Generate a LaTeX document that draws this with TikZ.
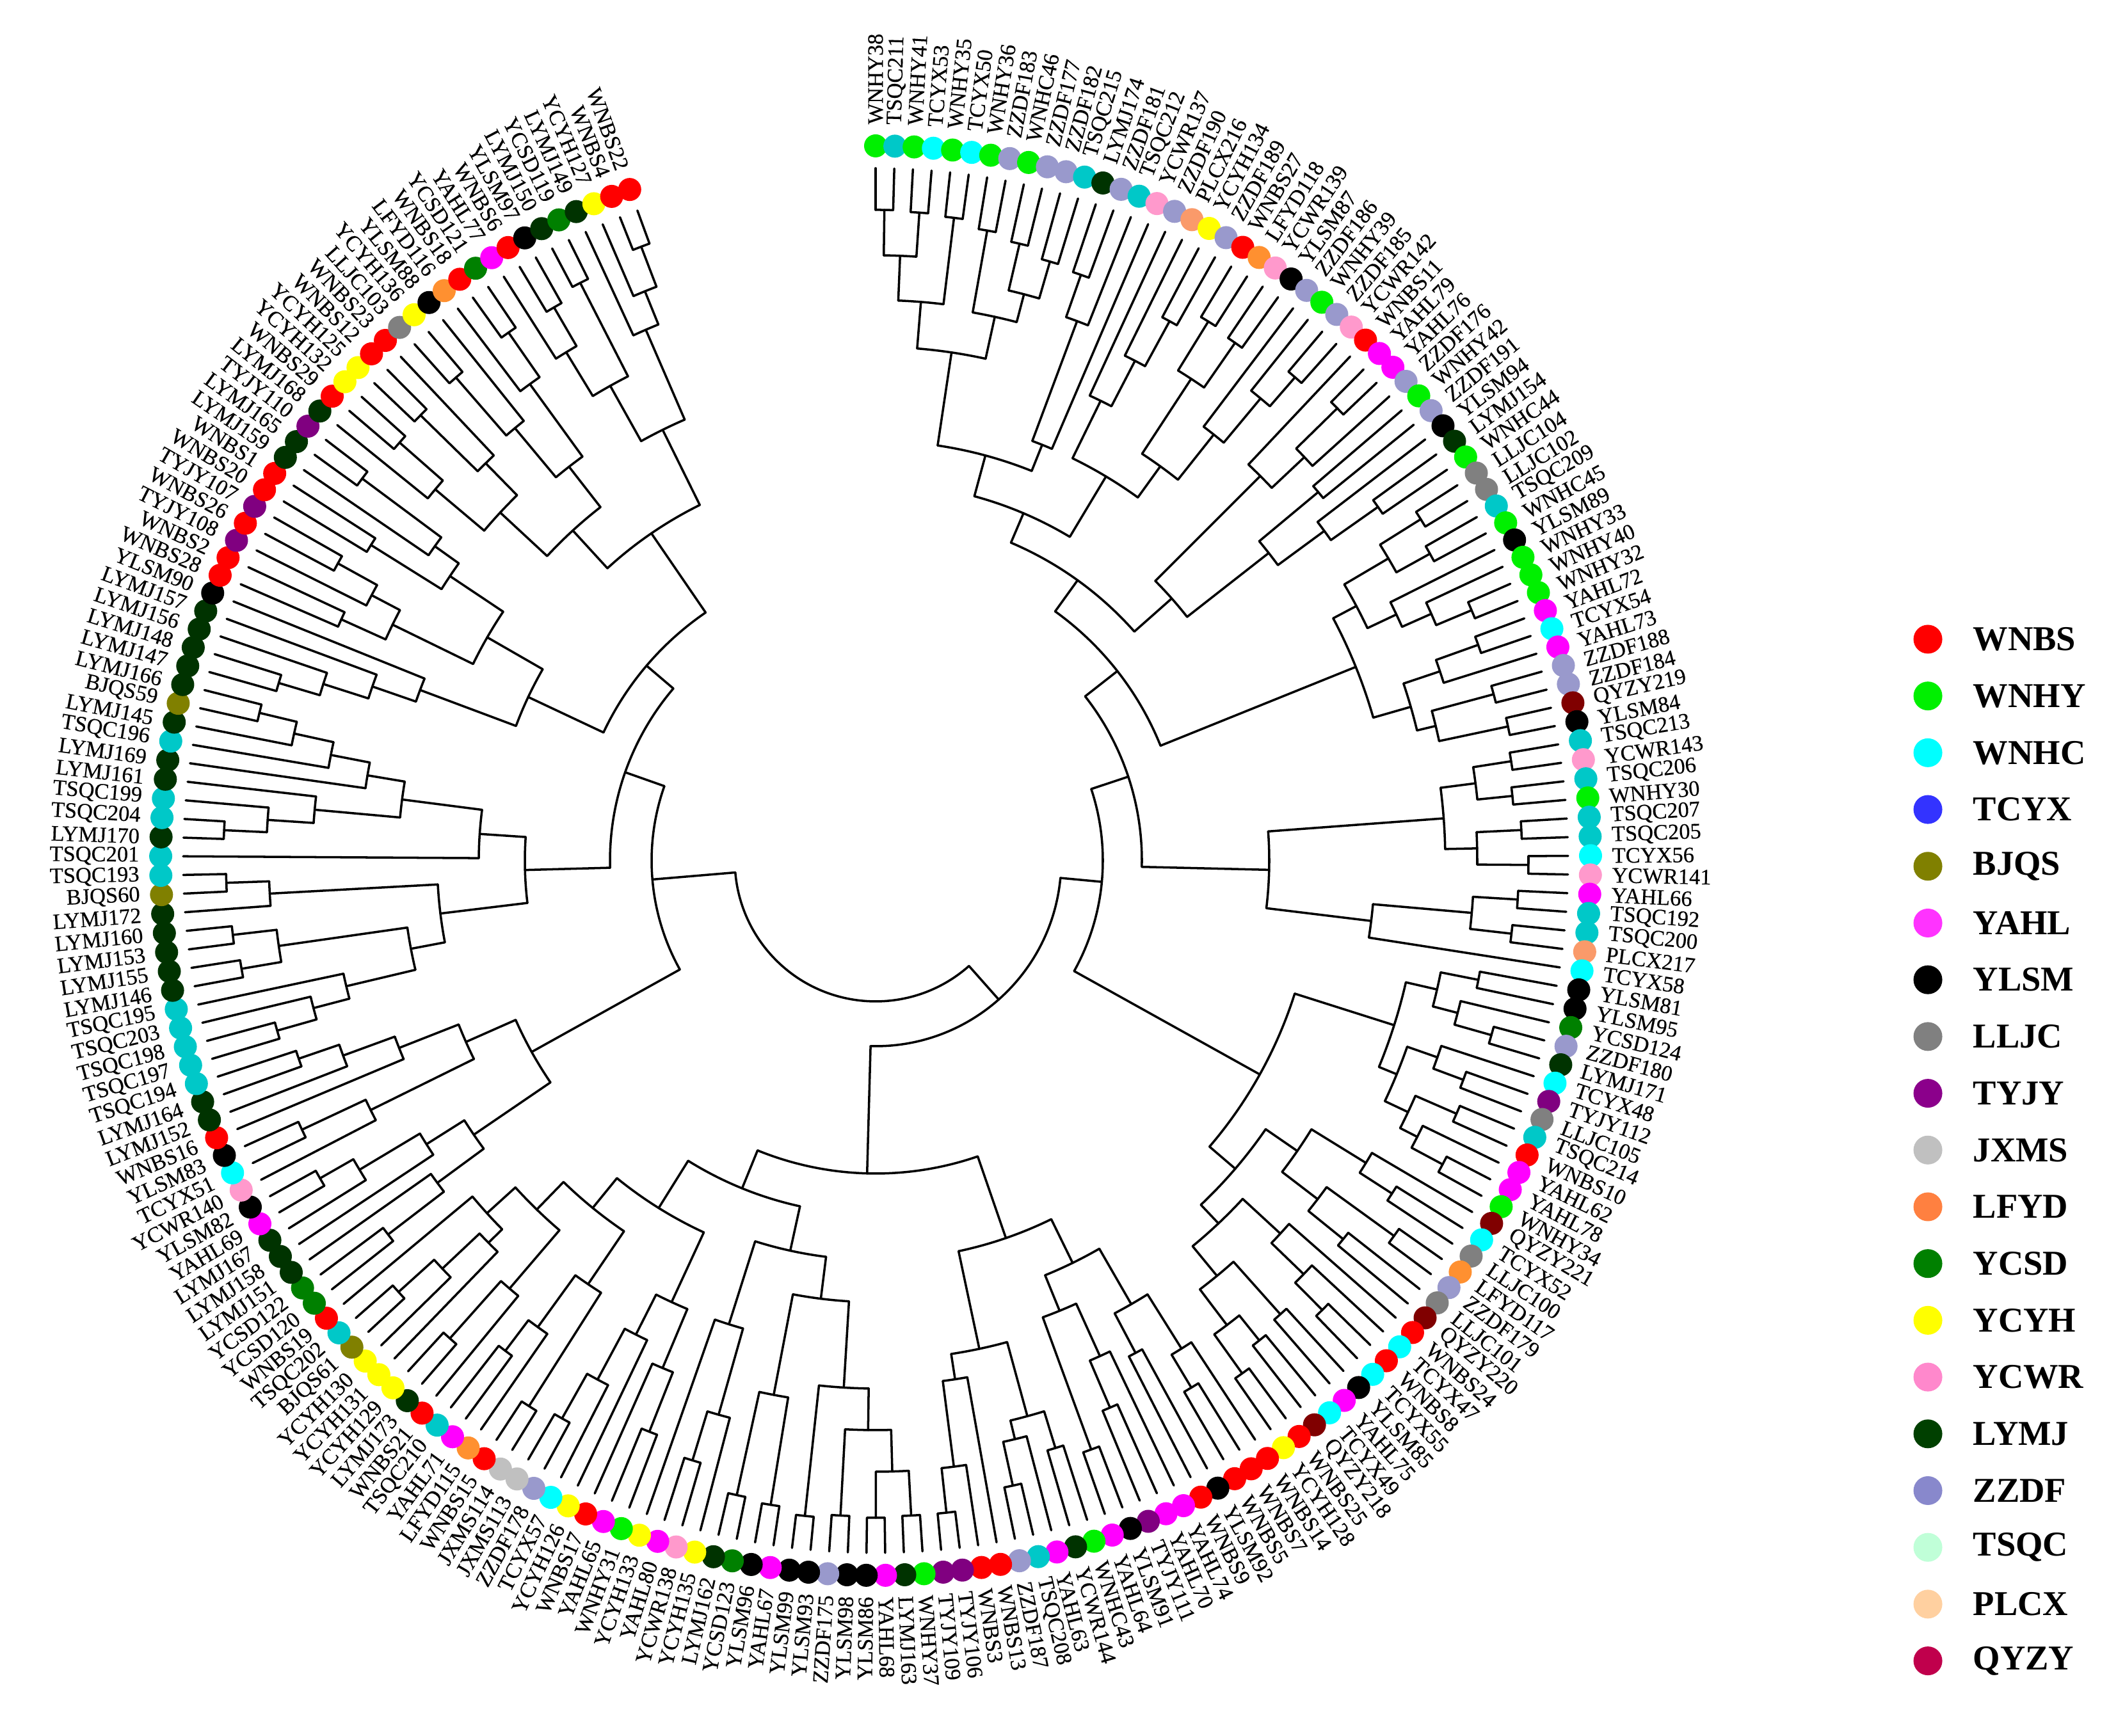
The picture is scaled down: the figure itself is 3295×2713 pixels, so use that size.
\documentclass[tikz,border=0pt]{standalone}
\usepackage{fontspec}
\setmainfont{Liberation Serif}
\newfontfamily\lblfont[FakeBold=0.3]{Liberation Serif}
\usepackage{tikz}
\usetikzlibrary{positioning}
\definecolor{cR}{HTML}{FF0000}
\definecolor{cG}{HTML}{00F000}
\definecolor{cC}{HTML}{00FFFF}
\definecolor{cT}{HTML}{00C8C8}
\definecolor{cL}{HTML}{9999CC}
\definecolor{cD}{HTML}{003300}
\definecolor{cS}{HTML}{008000}
\definecolor{cM}{HTML}{FF00FF}
\definecolor{cK}{HTML}{000000}
\definecolor{cGr}{HTML}{808080}
\definecolor{cP}{HTML}{800080}
\definecolor{cJ}{HTML}{C0C0C0}
\definecolor{cO}{HTML}{FF9030}
\definecolor{cPl}{HTML}{FA9A6A}
\definecolor{cY}{HTML}{FFFF00}
\definecolor{cPk}{HTML}{FF99CC}
\definecolor{cOl}{HTML}{808000}
\definecolor{cQ}{HTML}{800000}
\definecolor{lgB}{HTML}{3333FF}
\definecolor{lgM}{HTML}{FF33FF}
\definecolor{lgO}{HTML}{FF8040}
\definecolor{lgPk}{HTML}{FF88CC}
\definecolor{lgD}{HTML}{004000}
\definecolor{lgL}{HTML}{8888CC}
\definecolor{lgT}{HTML}{C0FFD8}
\definecolor{lgPl}{HTML}{FFD0A0}
\definecolor{lgQ}{HTML}{C0004C}
\definecolor{lgP}{HTML}{8B008B}

% dendrogram helpers: \Lf is a leaf, \Nd{radius}{children} an inner node
\newcount\lfno
\def\angstep{1.5449}
\def\tiprad{1082}
\def\afterchild{}
\newcommand\Lf{%
  \global\advance\lfno by 1
  \pgfmathsetmacro\tmpang{90-(\the\lfno-1)*\angstep}%
  \xdef\retang{\tmpang}\xdef\retrad{\tiprad}%
  \afterchild}
\newcommand\addstem{%
  \draw[branch] (\retang:\retrad) -- (\retang:\myrad);
  \ifx\firstang\relax\edef\firstang{\retang}\fi
  \edef\lastang{\retang}}
\newcommand\Nd[2]{%
  \begingroup
  \def\myrad{#1}\let\firstang\relax
  \let\afterchild\addstem
  #2%
  \draw[branch] (\firstang:\myrad) arc[start angle=\firstang,end angle=\lastang,radius=\myrad];
  \pgfmathsetmacro\tmpang{(\firstang+\lastang)/2}%
  \xdef\retang{\tmpang}\xdef\retrad{\myrad}%
  \endgroup
  \afterchild}

\begin{document}
\begin{tikzpicture}[x=0.01cm,y=0.01cm,
  branch/.style={line width=1pt,line cap=round},
  leafdot/.style={circle,inner sep=0pt,minimum size=0.36cm},
  leaflbl/.style={inner sep=0pt,font=\lblfont\fontsize{9.8}{11}\selectfont},
  legdot/.style={circle,inner sep=0pt,minimum size=0.45cm},
  legtxt/.style={anchor=west,inner sep=0pt,font=\bfseries\fontsize{15.5}{18}\selectfont}]
\fill[white] (0,0) rectangle (3295,2713);
\useasboundingbox (0,0) rectangle (3295,2713);

\begin{scope}[shift={(1368,1368)}]
\global\lfno=0
\Nd{220}{%
 \Nd{290}{%
  \Nd{355}{%
   \Nd{416}{%
    \Nd{480}{%
     \Nd{540}{%
      \Nd{590}{%
       \Nd{656}{%
        \Nd{803}{%
         \Nd{876}{\Nd{946}{\Nd{1017}{\Lf\Lf}\Nd{1015}{\Lf\Lf}}\Nd{1012}{\Lf\Lf}}%
         \Nd{870}{\Nd{1000}{\Lf\Lf}\Nd{915}{\Nd{990}{\Lf\Lf}\Nd{975}{\Lf\Lf}}}}%
        \Nd{700}{\Nd{900}{\Nd{970}{\Lf\Lf}\Lf}\Lf}}%
       \Nd{700}{%
        \Nd{800}{\Lf\Nd{880}{\Lf\Nd{960}{\Lf\Lf}}}%
        \Nd{760}{\Nd{900}{\Nd{990}{\Lf\Lf}\Nd{985}{\Lf\Lf}}\Nd{850}{\Lf\Nd{940}{\Lf\Nd{1000}{\Lf\Lf}}}}}}%
      \Nd{618}{%
       \Nd{850}{\Lf\Nd{920}{\Nd{1010}{\Lf\Lf}\Lf}}%
       \Nd{780}{\Nd{900}{\Lf\Lf}\Nd{870}{\Lf\Nd{960}{\Lf\Lf}}}}}%
     \Nd{809}{%
      \Nd{850}{\Nd{930}{\Nd{1005}{\Lf\Lf}\Nd{990}{\Lf\Lf}}\Nd{900}{\Lf\Nd{950}{\Lf\Nd{1010}{\Lf\Lf}}}}%
      \Nd{870}{\Nd{930}{\Nd{1000}{\Lf\Lf}\Lf}\Nd{900}{\Nd{1000}{\Lf\Lf}\Nd{1010}{\Lf\Lf}}}}}%
    \Nd{615}{%
     \Nd{890}{\Nd{945}{\Nd{1005}{\Lf\Lf}\Nd{1000}{\Lf\Lf}}\Nd{940}{\Nd{1010}{\Lf\Lf}\Nd{1020}{\Lf\Lf}}}%
     \Nd{780}{\Nd{935}{\Nd{1005}{\Lf\Lf}\Nd{1000}{\Lf\Lf}}\Lf}}}%
   \Nd{687}{%
    \Nd{850}{%
     \Nd{900}{\Nd{960}{\Lf\Lf}\Nd{940}{\Lf\Nd{1000}{\Lf\Lf}}}%
     \Nd{880}{\Nd{930}{\Lf\Nd{980}{\Lf\Lf}}\Nd{920}{\Nd{990}{\Lf\Lf}\Nd{950}{\Lf\Nd{1005}{\Lf\Lf}}}}}%
    \Nd{740}{%
     \Nd{800}{\Nd{900}{\Lf\Nd{960}{\Lf\Lf}}\Nd{870}{\Nd{1000}{\Lf\Lf}\Nd{940}{\Lf\Lf}}}%
     \Nd{780}{\Nd{860}{\Lf\Nd{930}{\Lf\Nd{990}{\Lf\Lf}}}\Nd{840}{\Nd{950}{\Lf\Lf}\Nd{910}{\Nd{960}{\Lf\Lf}\Nd{985}{\Lf\Lf}}}}}}}%
  \Nd{489}{%
   \Nd{624}{%
    \Nd{700}{%
     \Nd{800}{\Nd{900}{\Lf\Nd{960}{\Lf\Lf}}\Nd{870}{\Lf\Lf}}%
     \Nd{760}{\Nd{850}{\Lf\Nd{930}{\Lf\Lf}}\Nd{980}{\Lf\Lf}}}%
    \Nd{780}{%
     \Nd{900}{\Nd{960}{\Lf\Lf}\Nd{930}{\Lf\Nd{1000}{\Lf\Lf}}}%
     \Nd{820}{\Lf\Nd{955}{\Lf\Nd{1025}{\Lf\Lf}}}}}%
   \Nd{553}{%
    \Nd{624}{%
     \Nd{690}{%
      \Nd{825}{\Nd{890}{\Nd{955}{\Nd{1025}{\Lf\Lf}\Nd{1027}{\Lf\Lf}}\Nd{1025}{\Lf\Lf}}\Nd{1030}{\Lf\Lf}}%
      \Nd{850}{\Nd{1020}{\Lf\Lf}\Nd{1015}{\Lf\Lf}}}%
     \Nd{760}{\Nd{900}{\Lf\Nd{980}{\Lf\Lf}}\Lf}}%
    \Nd{640}{%
     \Nd{760}{\Nd{860}{\Nd{960}{\Lf\Lf}\Lf}\Nd{830}{\Lf\Nd{920}{\Lf\Nd{1000}{\Lf\Lf}}}}%
     \Nd{700}{%
      \Nd{800}{\Nd{1010}{\Lf\Lf}\Nd{900}{\Lf\Nd{960}{\Lf\Lf}}}%
      \Nd{760}{\Nd{880}{\Lf\Nd{1000}{\Lf\Lf}}\Nd{820}{\Nd{850}{\Lf\Nd{930}{\Lf\Nd{1005}{\Lf\Lf}}}\Lf}}}}}}}%
 \Nd{350}{%
  \Nd{615}{%
   \Nd{760}{\Nd{850}{\Nd{960}{\Lf\Lf}\Lf}\Nd{830}{\Lf\Nd{940}{\Lf\Nd{1000}{\Lf\Lf}}}}%
   \Nd{700}{\Nd{880}{\Lf\Nd{990}{\Lf\Lf}}\Nd{800}{\Lf\Nd{886}{\Lf\Nd{953}{\Lf\Lf}}}}}%
  \Nd{415}{%
   \Nd{548}{%
    \Nd{685}{%
     \Nd{739}{\Nd{850}{\Nd{908}{\Nd{972}{\Lf\Lf}\Lf}\Lf}\Nd{942}{\Nd{1005}{\Lf\Lf}\Nd{1011}{\Lf\Lf}}}%
     \Nd{948}{\Lf\Nd{1015}{\Lf\Lf}}}%
    \Nd{620}{\Lf
     \Nd{746}{\Nd{880}{\Nd{952}{\Nd{1019}{\Lf\Lf}\Lf}\Lf}\Nd{805}{\Lf\Nd{867}{\Lf\Nd{930}{\Lf\Nd{990}{\Lf\Lf}}}}}}}%
   \Nd{470}{%
    \Nd{600}{%
     \Nd{760}{\Nd{832}{\Nd{906}{\Nd{973}{\Lf\Lf}\Lf}\Lf}\Lf}%
     \Nd{700}{\Nd{840}{\Nd{916}{\Lf\Lf}\Nd{890}{\Lf\Nd{960}{\Lf\Lf}}}\Nd{800}{\Nd{930}{\Lf\Lf}\Nd{846}{\Lf\Nd{1000}{\Lf\Lf}}}}}%
    \Nd{620}{%
     \Nd{700}{\Nd{800}{\Nd{900}{\Lf\Nd{990}{\Lf\Lf}}\Nd{870}{\Nd{995}{\Lf\Lf}\Lf}}\Nd{780}{\Nd{880}{\Nd{1000}{\Lf\Lf}\Lf}\Nd{920}{\Lf\Nd{1005}{\Lf\Lf}}}}%
     \Nd{751}{\Nd{850}{\Nd{930}{\Lf\Nd{1000}{\Lf\Lf}}\Nd{1014}{\Lf\Lf}}\Nd{904}{\Lf\Nd{960}{\Lf\Nd{1027}{\Lf\Lf}}}}}}}}}

\foreach \lab/\col [count=\i] in {
 WNHY38/cG,TSQC211/cT,WNHY41/cG,TCYX53/cC,WNHY35/cG,TCYX50/cC,WNHY36/cG,ZZDF183/cL,WNHC46/cG,ZZDF177/cL,
 ZZDF182/cL,TSQC215/cT,LYMJ174/cD,ZZDF181/cL,TSQC212/cT,YCWR137/cPk,ZZDF190/cL,PLCX216/cPl,YCYH134/cY,ZZDF189/cL,
 WNBS27/cR,LFYD118/cO,YCWR139/cPk,YLSM87/cK,ZZDF186/cL,WNHY39/cG,ZZDF185/cL,YCWR142/cPk,WNBS11/cR,YAHL79/cM,
 YAHL76/cM,ZZDF176/cL,WNHY42/cG,ZZDF191/cL,YLSM94/cK,LYMJ154/cD,WNHC44/cG,LLJC104/cGr,LLJC102/cGr,TSQC209/cT,
 WNHC45/cG,YLSM89/cK,WNHY33/cG,WNHY40/cG,WNHY32/cG,YAHL72/cM,TCYX54/cC,YAHL73/cM,ZZDF188/cL,ZZDF184/cL,
 QYZY219/cQ,YLSM84/cK,TSQC213/cT,YCWR143/cPk,TSQC206/cT,WNHY30/cG,TSQC207/cT,TSQC205/cT,TCYX56/cC,YCWR141/cPk,
 YAHL66/cM,TSQC192/cT,TSQC200/cT,PLCX217/cPl,TCYX58/cC,YLSM81/cK,YLSM95/cK,YCSD124/cS,ZZDF180/cL,LYMJ171/cD,
 TCYX48/cC,TYJY112/cP,LLJC105/cGr,TSQC214/cT,WNBS10/cR,YAHL62/cM,YAHL78/cM,WNHY34/cG,QYZY221/cQ,TCYX52/cC,
 LLJC100/cGr,LFYD117/cO,ZZDF179/cL,LLJC101/cGr,QYZY220/cQ,WNBS24/cR,TCYX47/cC,WNBS8/cR,TCYX55/cC,YLSM85/cK,
 YAHL75/cM,TCYX49/cC,QYZY218/cQ,WNBS25/cR,YCYH128/cY,WNBS14/cR,WNBS7/cR,WNBS5/cR,YLSM92/cK,WNBS9/cR,
 YAHL74/cM,YAHL70/cM,TYJY111/cP,YLSM91/cK,YAHL64/cM,WNHC43/cG,YCWR144/cD,YAHL63/cM,TSQC208/cT,ZZDF187/cL,
 WNBS13/cR,WNBS3/cR,TYJY106/cP,TYJY109/cP,WNHY37/cG,LYMJ163/cD,YAHL68/cM,YLSM86/cK,YLSM98/cK,ZZDF175/cL,
 YLSM93/cK,YLSM99/cK,YAHL67/cM,YLSM96/cK,YCSD123/cS,LYMJ162/cD,YCYH135/cY,YCWR138/cPk,YAHL80/cM,YCYH133/cY,
 WNHY31/cG,YAHL65/cM,WNBS17/cR,YCYH126/cY,TCYX57/cC,ZZDF178/cL,JXMS113/cJ,JXMS114/cJ,WNBS15/cR,LFYD115/cO,
 YAHL71/cM,TSQC210/cT,WNBS21/cR,LYMJ173/cD,YCYH129/cY,YCYH131/cY,YCYH130/cY,BJQS61/cOl,TSQC202/cT,WNBS19/cR,
 YCSD120/cS,YCSD122/cS,LYMJ151/cD,LYMJ158/cD,LYMJ167/cD,YAHL69/cM,YLSM82/cK,YCWR140/cPk,TCYX51/cC,YLSM83/cK,
 WNBS16/cR,LYMJ152/cD,LYMJ164/cD,TSQC194/cT,TSQC197/cT,TSQC198/cT,TSQC203/cT,TSQC195/cT,LYMJ146/cD,LYMJ155/cD,
 LYMJ153/cD,LYMJ160/cD,LYMJ172/cD,BJQS60/cOl,TSQC193/cT,TSQC201/cT,LYMJ170/cD,TSQC204/cT,TSQC199/cT,LYMJ161/cD,
 LYMJ169/cD,TSQC196/cT,LYMJ145/cD,BJQS59/cOl,LYMJ166/cD,LYMJ147/cD,LYMJ148/cD,LYMJ156/cD,LYMJ157/cD,YLSM90/cK,
 WNBS28/cR,WNBS2/cR,TYJY108/cP,WNBS26/cR,TYJY107/cP,WNBS20/cR,WNBS1/cR,LYMJ159/cD,LYMJ165/cD,TYJY110/cP,
 LYMJ168/cD,WNBS29/cR,YCYH132/cY,YCYH125/cY,WNBS12/cR,WNBS23/cR,LLJC103/cGr,YCYH136/cY,YLSM88/cK,LFYD116/cO,
 WNBS18/cR,YCSD121/cS,YAHL77/cM,WNBS6/cR,YLSM97/cK,LYMJ150/cD,YCSD119/cS,LYMJ149/cD,YCYH127/cY,WNBS4/cR,
 WNBS22/cR}{
  \pgfmathsetmacro\ang{90-(\i-1)*\angstep}
  \ifdim\ang pt>-90pt
    \def\anc{west}\let\rot\ang
  \else
    \def\anc{east}\pgfmathsetmacro\rot{\ang+180}
  \fi
  \node[leafdot,fill=\col] (dt\i) at (\ang:1117) {};
  \node[leaflbl,anchor=\anc,rotate=\rot] (lb\i) at (\ang:1150) {\lab};
}
\end{scope}

\foreach \nm/\col [count=\k] in {WNBS/cR,WNHY/cG,WNHC/cC,TCYX/lgB,BJQS/cOl,YAHL/lgM,YLSM/cK,LLJC/cGr,TYJY/lgP,
  JXMS/cJ,LFYD/lgO,YCSD/cS,YCYH/cY,YCWR/lgPk,LYMJ/lgD,ZZDF/lgL,TSQC/lgT,PLCX/lgPl,QYZY/lgQ}{
  \node[legdot,fill=\col] (ld\k) at (3012,{1714-88.7*(\k-1)}) {};
  \node[legtxt] (lt\k) at (3082,{1714-88.7*(\k-1)}) {\nm};
}
\end{tikzpicture}
\end{document}
